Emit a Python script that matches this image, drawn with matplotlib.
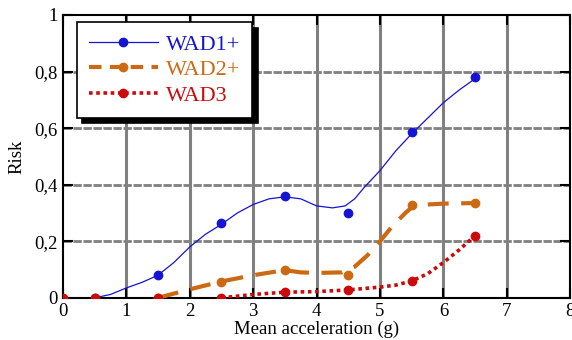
import matplotlib.pyplot as plt
from matplotlib.lines import Line2D

# measured points (markers)
x_pts = [0.5, 1.5, 2.5, 3.5, 4.5, 5.5, 6.5]
wad1_pts = [0.0, 0.08, 0.265, 0.36, 0.30, 0.587, 0.78]
x2_pts = [1.5, 2.5, 3.5, 4.5, 5.5, 6.5]
wad2_pts = [0.0, 0.055, 0.10, 0.079, 0.327, 0.335]
x3_pts = [0.0, 0.5, 1.5, 2.5, 3.5, 4.5, 5.5, 6.5]
wad3_pts = [0.0, 0.0, 0.0, 0.0, 0.02, 0.028, 0.06, 0.22]

# smoothed curves
x1_fit = [0.5, 0.75, 1.0, 1.25, 1.5, 1.75, 2.0, 2.25, 2.5, 2.75, 3.0, 3.25, 3.5, 3.75,
          4.0, 4.25, 4.45, 4.6, 4.75, 5.0, 5.25, 5.5, 5.75, 6.0, 6.25, 6.5]
wad1_fit = [0.0, 0.012, 0.035, 0.055, 0.08, 0.125, 0.18, 0.225, 0.26, 0.30, 0.33, 0.35, 0.357, 0.35,
            0.325, 0.318, 0.325, 0.35, 0.39, 0.45, 0.52, 0.58, 0.635, 0.69, 0.735, 0.775]
x2_fit = [1.5, 2.0, 2.5, 3.0, 3.5, 3.75, 4.0, 4.4, 4.6, 4.8, 5.0, 5.2, 5.4, 5.5, 5.75, 6.0, 6.5]
wad2_fit = [0.0, 0.03, 0.058, 0.08, 0.098, 0.09, 0.088, 0.09, 0.11, 0.15, 0.20, 0.255, 0.30, 0.32,
            0.33, 0.333, 0.335]
x3_fit = [2.5, 3.0, 3.5, 4.0, 4.5, 5.0, 5.25, 5.5, 5.75, 6.0, 6.25, 6.5]
wad3_fit = [0.0, 0.012, 0.02, 0.022, 0.028, 0.038, 0.045, 0.06, 0.085, 0.125, 0.17, 0.22]

xticks = [0, 1, 2, 3, 4, 5, 6, 7, 8]
yticks = [0, 0.2, 0.4, 0.6, 0.8, 1.0]
ylabels = ['0', '0,2', '0,4', '0,6', '0,8', '1']

c1 = '#1414d2'
c2 = '#cc6a14'
c3 = '#cc0a0a'

plt.rcParams['font.family'] = ['Liberation Serif', 'DejaVu Serif']

fig = plt.figure(figsize=(5.72, 3.4), dpi=100)
ax = fig.add_axes([0.110, 0.124, 0.887, 0.832])

for x in xticks[1:-1]:
    ax.axvline(x, color='#808080', lw=2.2, zorder=0)
for y in yticks[1:-1]:
    ax.axhline(y, color='#808080', lw=2.0, ls=(0, (3, 0.6)), zorder=0)

ax.plot(x1_fit, wad1_fit, color=c1, lw=0.9, zorder=3)
ax.plot(x2_fit, wad2_fit, color=c2, lw=3.0, ls=(0, (5, 3)), zorder=3)
ax.plot(x3_fit, wad3_fit, color=c3, lw=2.6, ls=(0, (1, 1)), zorder=3)

ax.plot(x_pts, wad1_pts, 'o', color=c1, ms=6, zorder=4)
ax.plot(x2_pts, wad2_pts, 'o', color=c2, ms=6, zorder=4)
ax.plot(x3_pts, wad3_pts, 'o', color=c3, ms=6, zorder=5)

ax.set_xlim(0, 8)
ax.set_ylim(0, 1)
ax.set_xticks(xticks)
ax.set_yticks(yticks)
ax.set_yticklabels(ylabels)
ax.tick_params(direction='in', top=True, right=True, length=7, width=1.5,
               labelsize=13.5, pad=4, colors='black')
for s in ax.spines.values():
    s.set_linewidth(1.5)

ax.set_xlabel('Mean acceleration (g)', fontsize=13.5, labelpad=0)
ax.set_ylabel('Risk', fontsize=13.5, labelpad=6)

handles = [
    Line2D([], [], color=c1, lw=0.9, marker='o', ms=6),
    Line2D([], [], color=c2, lw=3.0, ls=(0, (3, 2)), marker='o', ms=6),
    Line2D([], [], color=c3, lw=2.6, ls=(0, (1, 1)), marker='o', ms=6),
]
leg = ax.legend(handles, ['WAD1+', 'WAD2+', 'WAD3'], loc='upper left',
                bbox_to_anchor=(0.027, 0.975), borderaxespad=0, fancybox=False,
                shadow={'color': 'black', 'alpha': 1, 'ox': 4, 'oy': -4},
                edgecolor='black', framealpha=1, fontsize=16, labelcolor='linecolor',
                handlelength=3.1, handletextpad=0.35, borderpad=0.55, labelspacing=0.22)
leg.get_frame().set_linewidth(1.2)
leg.set_zorder(6)

fig.savefig('out.png', dpi=100)
